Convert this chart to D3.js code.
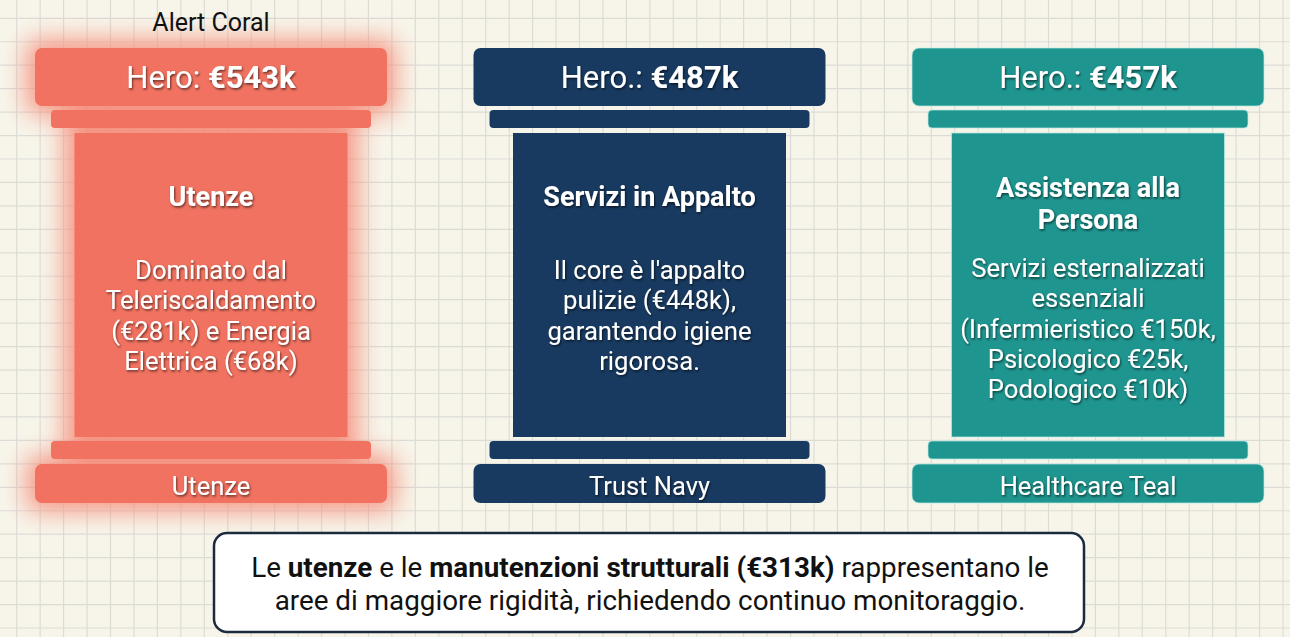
<!DOCTYPE html>
<html>
<head>
<meta charset="utf-8">
<script src="https://cdn.jsdelivr.net/npm/d3@7"></script>
<style>
	html, body { margin: 0; padding: 0; background: #f7f5ea; }
	svg { display: block; font-family: Roboto, "Noto Sans", sans-serif; }
</style>
</head>
<body>
<svg id="pillars" width="1290" height="637"></svg>
<script>
// chart data
const categories = ["Utenze", "Servizi in Appalto", "Assistenza alla Persona"];
const heroValues = [543, 487, 457];
const heroPrefix = ["Hero: ", "Hero.: ", "Hero.: "];
const titleLines = [["Utenze"], ["Servizi in Appalto"], ["Assistenza alla", "Persona"]];
const descLines = [
	["Dominato dal", "Teleriscaldamento", "(€281k) e Energia", "Elettrica (€68k)"],
	["Il core è l'appalto", "pulizie (€448k),", "garantendo igiene", "rigorosa."],
	["Servizi esternalizzati", "essenziali", "(Infermieristico €150k,", "Psicologico €25k,", "Podologico €10k)"]
];
const baseLabels = ["Utenze", "Trust Navy", "Healthcare Teal"];
const colors = ["#f17260", "#183a60", "#1f958f"];
const highlightLabel = "Alert Coral";
const calloutParts = [
	[["Le ", false], ["utenze", true], [" e le ", false], ["manutenzioni strutturali (€313k)", true], [" rappresentano le", false]],
	[["aree di maggiore rigidità, richiedendo continuo monitoraggio.", false]]
];

const W = 1290, H = 637;
const svg = d3.select("svg#pillars");

// defs: shadow for white text, glow for the highlighted pillar
const defs = svg.append("defs");
const ts = defs.append("filter").attr("id", "textShadow")
	.attr("x", "-20%").attr("y", "-40%").attr("width", "140%").attr("height", "180%");
ts.append("feDropShadow").attr("dx", 1).attr("dy", 1.5).attr("stdDeviation", 1.3)
	.attr("flood-color", "#000").attr("flood-opacity", 0.6);
const glow = defs.append("filter").attr("id", "glow")
	.attr("x", "-30%").attr("y", "-30%").attr("width", "160%").attr("height", "160%");
glow.append("feGaussianBlur").attr("stdDeviation", 13);

// grid background
const gridStep = 23.45;
const gx = d3.range(16.7, W, gridStep);
const gy = d3.range(18.3, H, gridStep);
const grid = svg.append("g").attr("stroke", "#dcdcd7").attr("stroke-width", 1.2);
grid.selectAll("line.v").data(gx).join("line").attr("class", "v")
	.attr("x1", d => d).attr("x2", d => d).attr("y1", 0).attr("y2", H);
grid.selectAll("line.h").data(gy).join("line").attr("class", "h")
	.attr("y1", d => d).attr("y2", d => d).attr("x1", 0).attr("x2", W);

// pillar positions
const x = d3.scaleBand().domain(categories).range([35, 1264]).paddingInner(0.1973);
const color = d3.scaleOrdinal().domain(categories).range(colors);

const data = categories.map((c, i) => ({
	cat: c, hero: heroValues[i], prefix: heroPrefix[i], title: titleLines[i],
	desc: descLines[i], base: baseLabels[i], i
}));

// vertical structure of a pillar
const capY = 48, capH = 58, slabH = 18, shaftTop = 133, shaftBot = 437, baseY = 464, baseH = 39;
const capW = x.bandwidth(), slabW = capW - 32, shaftW = capW - 79;

const pillars = svg.selectAll("g.pillar").data(data).join("g")
	.attr("class", "pillar")
	.attr("transform", d => `translate(${x(d.cat) + capW / 2} 0)`);

// glow behind first pillar
pillars.filter(d => d.i === 0).append("g").attr("filter", "url(#glow)").attr("opacity", 0.95)
	.attr("fill", "#f5907e")
	.call(g => {
		g.append("rect").attr("x", -capW / 2 - 8).attr("y", capY - 8).attr("width", capW + 16).attr("height", capH + 16).attr("rx", 8);
		g.append("rect").attr("x", -shaftW / 2 - 10).attr("y", capY).attr("width", shaftW + 20).attr("height", baseY + baseH - capY);
		g.append("rect").attr("x", -capW / 2 - 8).attr("y", baseY - 8).attr("width", capW + 16).attr("height", baseH + 16).attr("rx", 8);
	});

function shapes(g) {
	g.append("rect").attr("x", -capW / 2).attr("y", capY).attr("width", capW).attr("height", capH).attr("rx", 7);
	g.append("rect").attr("x", -slabW / 2).attr("y", 110).attr("width", slabW).attr("height", slabH).attr("rx", 4);
	g.append("rect").attr("x", -shaftW / 2).attr("y", shaftTop).attr("width", shaftW).attr("height", shaftBot - shaftTop);
	g.append("rect").attr("x", -slabW / 2).attr("y", 441).attr("width", slabW).attr("height", slabH).attr("rx", 4);
	g.append("rect").attr("x", -capW / 2).attr("y", baseY).attr("width", capW).attr("height", baseH).attr("rx", 7);
}
pillars.append("g").attr("fill", d => color(d.cat)).each(function () { shapes(d3.select(this)); });

// teal pillar light outline
pillars.filter(d => d.i === 2).append("g").attr("fill", "none")
	.attr("stroke", "#b8ece6").attr("stroke-width", 1).attr("opacity", 0.7)
	.each(function () { shapes(d3.select(this)); });

const txt = pillars.append("g").attr("fill", "#fff").attr("text-anchor", "middle").attr("filter", "url(#textShadow)");

// hero value on the capital
const hero = txt.append("text").attr("y", 88).attr("font-size", 31);
hero.append("tspan").text(d => d.prefix);
hero.append("tspan").attr("font-weight", 700).text(d => `€${d.hero}k`);

// title and description
txt.each(function (d) {
	const g = d3.select(this);
	const n = d.title.length;
	const t0 = n === 1 ? 206 : 197;
	g.selectAll("text.title").data(d.title).join("text").attr("class", "title")
		.attr("y", (l, j) => t0 + j * 32).attr("font-size", 27).attr("font-weight", 700).text(l => l);
	const d0 = n === 1 ? 279 : 277;
	g.selectAll("text.desc").data(d.desc).join("text").attr("class", "desc")
		.attr("y", (l, j) => d0 + j * 30.3).attr("font-size", 25.6).text(l => l);
});

// base label
txt.append("text").attr("y", 495).attr("font-size", 25.5).text(d => d.base);

// highlight label
svg.append("text").attr("x", x(categories[0]) + capW / 2).attr("y", 31)
	.attr("text-anchor", "middle").attr("font-size", 25).attr("fill", "#111").text(highlightLabel);

// callout box
const box = svg.append("g");
box.append("rect").attr("x", 214).attr("y", 533).attr("width", 870).attr("height", 99).attr("rx", 13)
	.attr("fill", "#fff").attr("stroke", "#1b2b3d").attr("stroke-width", 2.5);
box.selectAll("text").data(calloutParts).join("text")
	.attr("x", 650).attr("y", (d, i) => 577 + i * 33)
	.attr("text-anchor", "middle").attr("font-size", 27.8).attr("fill", "#111")
	.selectAll("tspan").data(d => d).join("tspan")
	.attr("font-weight", d => d[1] ? 700 : 400).text(d => d[0]);
</script>
</body>
</html>
